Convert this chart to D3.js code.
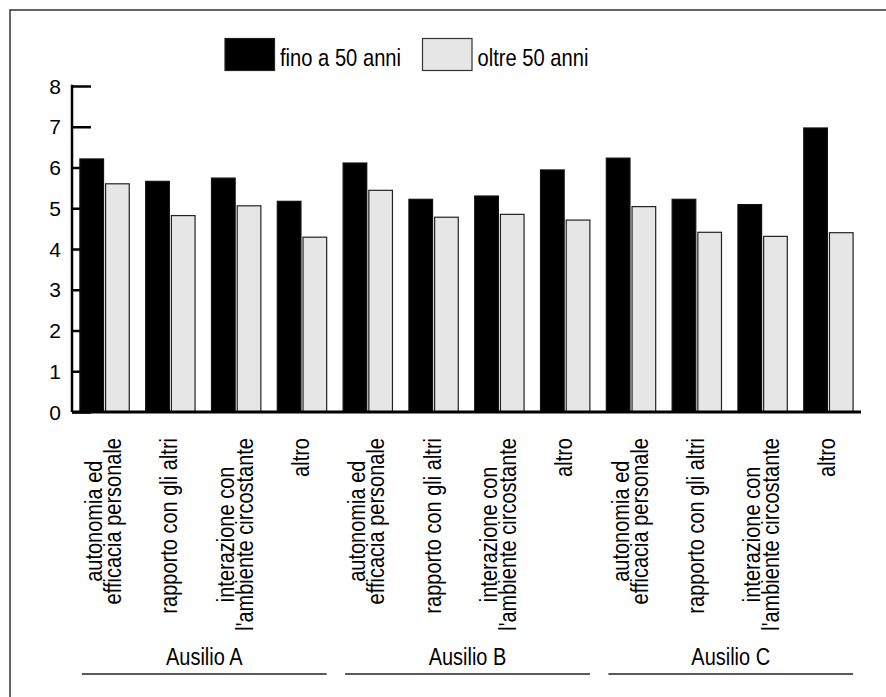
<!DOCTYPE html>
<html>
<head>
<meta charset="utf-8">
<script src="https://cdn.jsdelivr.net/npm/d3@7"></script>
<style>
  html, body { margin: 0; padding: 0; background: #fff; }
  svg { display: block; }
</style>
</head>
<body>
<svg id="chart" width="886" height="697"></svg>
<script>
// ---- data ----
const groups = ["Ausilio A", "Ausilio B", "Ausilio C"];
const subCategories = ["autonomia ed\nefficacia personale", "rapporto con gli altri", "interazione con\nl'ambiente circostante", "altro"];
const seriesNames = ["fino a 50 anni", "oltre 50 anni"];
const valuesUnder50 = [6.21, 5.66, 5.74, 5.17, 6.11, 5.22, 5.30, 5.94, 6.23, 5.22, 5.09, 6.97];
const valuesOver50  = [5.60, 4.82, 5.06, 4.29, 5.44, 4.78, 4.85, 4.71, 5.04, 4.41, 4.31, 4.40];
const yTicks = [0, 1, 2, 3, 4, 5, 6, 7, 8];

// ---- build rows ----
const rows = [];
groups.forEach((g, gi) => subCategories.forEach((c, ci) => {
  const i = gi * subCategories.length + ci;
  rows.push({ key: g + "|" + c, group: g, label: c, vals: [valuesUnder50[i], valuesOver50[i]] });
}));

const svg = d3.select("#chart");
const font = "'Liberation Sans', Arial, Helvetica, sans-serif";
const colors = ["#000000", "#e6e6e6"];

// frame
svg.append("path")
  .attr("d", "M10,700 V10 H900")
  .attr("fill", "none").attr("stroke", "#333").attr("stroke-width", 1.5);

const x = d3.scaleBand().domain(rows.map(r => r.key)).range([72, 861]).paddingInner(0.25).paddingOuter(0.12);
const xs = d3.scaleBand().domain(seriesNames).range([0, x.bandwidth()]).paddingInner(0.08);
const y = d3.scaleLinear().domain([0, 8]).range([412, 86]);

// y ticks (inner, drawn under bars)
const yAxis = d3.axisRight(y).tickValues(yTicks).tickSize(19).tickFormat("");
const gy = svg.append("g").attr("transform", "translate(72,0)").call(yAxis);
gy.select(".domain").remove();
gy.selectAll(".tick line").attr("stroke", "#000").attr("stroke-width", 2.5);

// bars
const gBars = svg.append("g");
rows.forEach(r => {
  gBars.selectAll(null).data(r.vals).enter().append("rect")
    .attr("x", (d, i) => x(r.key) + xs(seriesNames[i]))
    .attr("y", d => y(d))
    .attr("width", xs.bandwidth())
    .attr("height", d => y(0) - y(d))
    .attr("fill", (d, i) => colors[i])
    .attr("stroke", (d, i) => i === 0 ? "#111" : "#222")
    .attr("stroke-width", 1.2);
});

// y axis line + labels
svg.append("line").attr("x1", 72).attr("x2", 72).attr("y1", y(8) - 1.2).attr("y2", y(0))
  .attr("stroke", "#000").attr("stroke-width", 2.5);
svg.append("g").selectAll("text").data(yTicks).enter().append("text")
  .attr("x", 61).attr("y", d => y(d)).attr("dy", "0.36em")
  .attr("text-anchor", "end")
  .attr("font-family", font).attr("font-size", 21).attr("fill", "#000")
  .text(d => d);

// x axis line
svg.append("line").attr("x1", 72).attr("x2", 861).attr("y1", y(0)).attr("y2", y(0))
  .attr("stroke", "#000").attr("stroke-width", 3);

// category labels (condensed look via horizontal scaling in text direction)
const catSize = 23, catScale = 0.87, lineGap = 19;
rows.forEach(r => {
  const lines = r.label.split("\n");
  const g = svg.append("g")
    .attr("transform", `translate(${x(r.key) + x.bandwidth() / 2},438) rotate(-90) scale(${catScale},1)`);
  const t = g.selectAll("text").data(lines).enter().append("text")
    .attr("y", (d, i) => (i - (lines.length - 1) / 2) * lineGap + 7)
    .attr("text-anchor", "middle")
    .attr("font-family", font).attr("font-size", catSize).attr("fill", "#000")
    .text(d => d);
  let maxLen = 0;
  t.each(function () { maxLen = Math.max(maxLen, this.getComputedTextLength()); });
  t.attr("x", -maxLen / 2);
});

// group labels and underline
groups.forEach(g => {
  const keys = rows.filter(r => r.group === g).map(r => r.key);
  const x0 = x(keys[0]) + 2;
  const x1 = x(keys[keys.length - 1]) + x.bandwidth();
  svg.append("line").attr("x1", x0).attr("x2", x1).attr("y1", 674).attr("y2", 674)
    .attr("stroke", "#222").attr("stroke-width", 1.5);
  svg.append("text")
    .attr("transform", `translate(${(x0 + x1) / 2},665) scale(0.85,1)`)
    .attr("text-anchor", "middle")
    .attr("font-family", font).attr("font-size", 23.5).attr("fill", "#000")
    .text(g);
});

// legend
const legendX = [225, 422.5];
seriesNames.forEach((s, i) => {
  svg.append("rect").attr("x", legendX[i]).attr("y", 38.5).attr("width", 49.5).attr("height", 32)
    .attr("fill", colors[i]).attr("stroke", i === 0 ? "#222" : "#333").attr("stroke-width", 1.2);
  svg.append("text")
    .attr("transform", `translate(${legendX[i] + 55},66) scale(0.84,1)`)
    .attr("font-family", font).attr("font-size", 24).attr("fill", "#000")
    .text(s);
});
</script>
</body>
</html>
